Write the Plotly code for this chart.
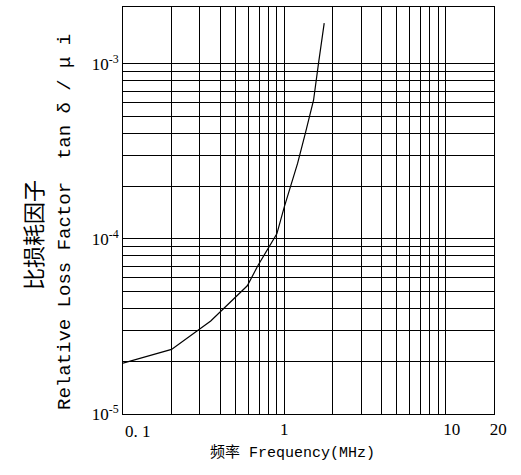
import plotly.graph_objects as go
import math

# Data
freq_mhz = [0.1, 0.2, 0.35, 0.59, 0.69, 0.9, 1.0, 1.1, 1.21, 1.35, 1.52, 1.63, 1.77]
loss_factor = [1.95e-5, 2.34e-5, 3.4e-5, 5.4e-5, 7.1e-5, 1.07e-4, 1.52e-4, 2.0e-4,
               2.7e-4, 4.0e-4, 6.2e-4, 1.0e-3, 1.71e-3]

x_grid = [0.1, 0.2, 0.3, 0.4, 0.5, 0.6, 0.7, 0.8, 0.9,
          1, 2, 3, 4, 5, 6, 7, 8, 9, 10, 20]
NB = "\u00a0"
x_labels = {1: "1", 10: NB * 3 + "10", 20: NB * 2 + "20"}
x_first_label = "0. 1"
y_grid = [1e-5, 2e-5, 3e-5, 4e-5, 5e-5, 6e-5, 7e-5, 8e-5, 9e-5,
          1e-4, 2e-4, 3e-4, 4e-4, 5e-4, 6e-4, 7e-4, 8e-4, 9e-4, 1e-3]
y_labels = {1e-5: "10<sup>-5</sup>", 1e-4: "10<sup>-4</sup>", 1e-3: "10<sup>-3</sup>"}

x_title = "频率 Frequency(MHz)"
y_title_cn = "比损耗因子"
y_title_en = "Relative Loss Factor  tan δ / μ i"

fig = go.Figure()
fig.add_trace(go.Scatter(x=freq_mhz, y=loss_factor, mode="lines",
                         line=dict(color="black", width=1.2), showlegend=False,
                         hoverinfo="skip"))

tick_font = dict(family="Liberation Serif, Noto Sans CJK SC", size=17, color="black")

fig.update_xaxes(type="log", range=[-1, math.log10(20)], automargin=False,
                 tickvals=x_grid, ticktext=[x_labels.get(v, "") for v in x_grid],
                 showgrid=True, gridcolor="black", gridwidth=1,
                 showline=True, linecolor="black", linewidth=1, mirror=True,
                 ticks="", zeroline=False, tickfont=tick_font)
fig.update_yaxes(type="log", range=[-5, -2.675], automargin=False,
                 tickvals=y_grid, ticktext=[y_labels.get(v, "") for v in y_grid],
                 showgrid=True, gridcolor="black", gridwidth=1,
                 showline=True, linecolor="black", linewidth=1, mirror=True,
                 ticks="", zeroline=False, tickfont=tick_font)

fig.update_layout(
    width=521, height=475,
    margin=dict(l=123, r=27, t=7, b=61, autoexpand=False),
    plot_bgcolor="white", paper_bgcolor="white",
    annotations=[
        dict(text=x_first_label, xref="x", yref="paper", x=math.log10(x_grid[0]),
             y=-(431 - 414) / 407, showarrow=False, xanchor="left", yanchor="middle",
             font=tick_font),
        dict(text=x_title, xref="paper", yref="paper", x=(292 - 123) / 371, y=-(453 - 414) / 407,
             showarrow=False, xanchor="center", yanchor="middle",
             font=dict(family="Liberation Mono, Noto Sans CJK SC", size=15, color="black")),
        dict(text=y_title_en, xref="paper", yref="paper", x=-(123 - 65) / 371, y=(414 - 222) / 407,
             showarrow=False, textangle=-90, xanchor="center", yanchor="middle",
             font=dict(family="Liberation Mono, Noto Sans CJK SC", size=19, color="black")),
        dict(text=y_title_cn, xref="paper", yref="paper", x=-(123 - 32) / 371, y=(414 - 235) / 407,
             showarrow=False, textangle=-90, xanchor="center", yanchor="middle",
             font=dict(family="Noto Sans CJK SC", size=22, color="black")),
    ],
)

fig.write_html("out.html", config={"displayModeBar": False},
               post_script="document.body.style.margin='0';")
